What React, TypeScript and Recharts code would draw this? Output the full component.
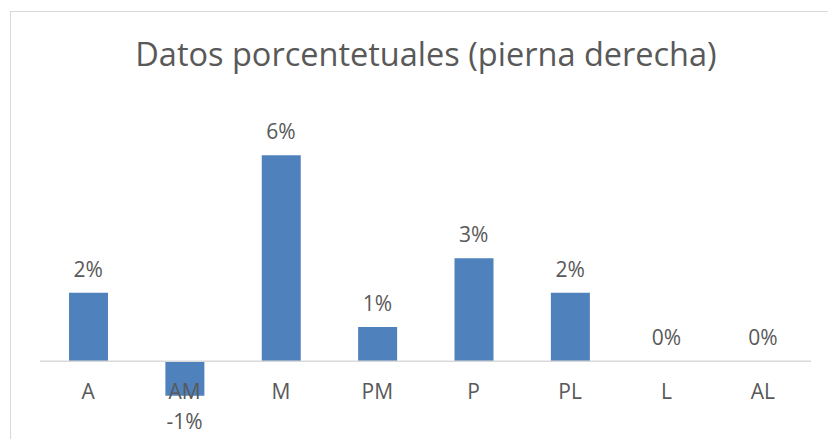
import React from "react";
import { ComposedChart, Bar, Line, XAxis, YAxis, ReferenceLine, LabelList } from "recharts";

const categories = ["A", "AM", "M", "PM", "P", "PL", "L", "AL"];
const values = [0.02, -0.01, 0.06, 0.01, 0.03, 0.02, 0, 0];
const labels = ["2%", "-1%", "6%", "1%", "3%", "2%", "0%", "0%"];

const data = categories.map((c, i) => ({ cat: c, v: values[i], lab: labels[i] }));

const FONT = "'Open Sans', 'DejaVu Sans', sans-serif";
const TXT = "#595959";

const Tick = (props: any) => {
  const { x, payload } = props;
  return (
    <text x={x} y={399} textAnchor="middle" fill={TXT} fontSize={21} fontFamily={FONT}>
      {payload.value}
    </text>
  );
};

const DataLabel = (props: any) => {
  const { x, y, index } = props;
  const v = values[index];
  const ty = v < 0 ? y + 33 : y - 16;
  return (
    <text x={x} y={ty} textAnchor="middle" fill={TXT} fontSize={21} fontFamily={FONT}>
      {labels[index]}
    </text>
  );
};

export default function App() {
  return (
    <div style={{ position: "fixed", left: 0, top: 0, width: 828, height: 439, overflow: "hidden", background: "#fff" }}>
      <div
        style={{
          position: "absolute",
          left: 10,
          top: 11,
          width: 840,
          height: 460,
          border: "1.5px solid #d9d9d9",
          boxSizing: "border-box",
        }}
      />
      <div
        style={{
          position: "absolute",
          left: 0,
          top: 34,
          width: 852,
          textAlign: "center",
          fontFamily: FONT,
          fontSize: 32.5,
          color: TXT,
          lineHeight: "40px",
          whiteSpace: "nowrap",
        }}
      >
        Datos porcentetuales (pierna derecha)
      </div>
      <div style={{ position: "absolute", left: 0, top: 0 }}>
        <ComposedChart width={828} height={439} data={data} margin={{ top: 121, bottom: 0, left: 40, right: 17 }}>
          <YAxis hide domain={[-0.02, 0.07]} type="number" />
          <XAxis dataKey="cat" axisLine={false} tickLine={false} tick={<Tick />} height={9} interval={0} />
          <ReferenceLine y={0} stroke="#d9d9d9" strokeWidth={1.5} />
          <Bar dataKey="v" fill="#4f81bd" barSize={39} isAnimationActive={false} />
          <Line dataKey="v" stroke="none" dot={false} activeDot={false} legendType="none" isAnimationActive={false}>
            <LabelList dataKey="lab" content={<DataLabel />} />
          </Line>
        </ComposedChart>
      </div>
    </div>
  );
}
